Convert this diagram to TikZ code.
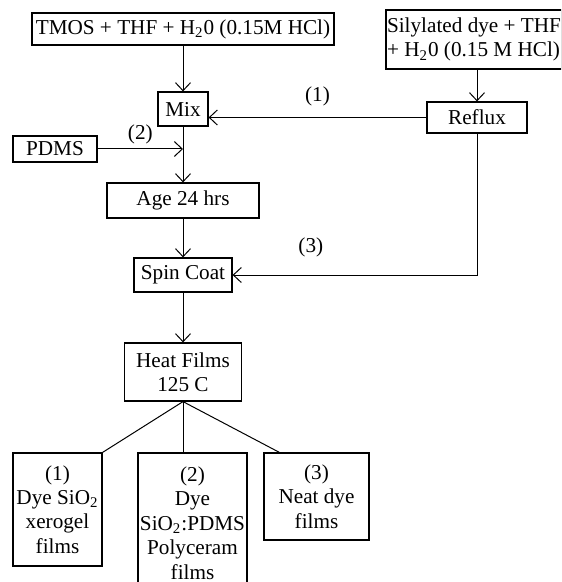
\documentclass[tikz,border=0pt]{standalone}
\usepackage{fontspec}
\setmainfont{Liberation Serif}
\usepackage{tikz}
\usetikzlibrary{arrows.meta,positioning,calc}
\newcommand{\subtwo}{\textsubscript{2}}
\tikzset{
  box/.style={draw,line width=0.6pt,inner sep=0pt,align=center},
  flow/.style={line width=0.5pt,-{Straight Barb[length=4pt,width=7.5pt]}},
  ln/.style={line width=0.5pt},
  tag/.style={inner sep=0pt},
}

\begin{document}
\begin{tikzpicture}[x=0.5pt,y=-0.5pt,font=\fontsize{10.6}{12.2}\selectfont]
  \useasboundingbox (0,0) rectangle (561,582);
  \clip (0,0) rectangle (561,582);
  % starting solutions
  \node[box,minimum width=151pt,minimum height=16pt] (tmos) at (183,29) {TMOS + THF + H\subtwo0 (0.15M HCl)};
  \node[box,minimum width=83pt,minimum height=29.5pt,align=left,inner xsep=0.5pt] (silyl) at (474,39.5) {Silylated dye + THF\\+ H\subtwo0 (0.15 M HCl)};
  \node[box,minimum width=25pt,minimum height=17pt] (mix) at (183,109) {Mix};
  \node[box,minimum width=50pt,minimum height=15.5pt] (reflux) at (477,117.5) {Reflux};
  \node[box,minimum width=42pt,minimum height=13pt] (pdms) at (55,149) {PDMS};
  % processing
  \node[box,minimum width=76pt,minimum height=17.5pt] (age) at (183,200.5) {Age 24 hrs};
  \node[box,minimum width=49pt,minimum height=17pt] (spin) at (183,275) {Spin Coat};
  \node[box,minimum width=58.5pt,minimum height=29pt] (heat) at (183,372) {Heat Films\\125 C};
  % products
  \node[box,minimum width=44.5pt,minimum height=56.5pt] (xero) at (57.5,509.5) {(1)\\Dye SiO\subtwo\\xerogel\\films};
  \node[box,minimum width=54.5pt,minimum height=70pt] (poly) at (192.5,523) {(2)\\Dye\\SiO\subtwo:PDMS\\Polyceram\\films};
  \node[box,minimum width=52.5pt,minimum height=43.5pt] (neat) at (316.5,496.5) {(3)\\Neat dye\\films};

  \draw[flow] (tmos) -- (mix);
  \draw[flow] (silyl.south -| reflux) -- (reflux.north);
  \draw[flow] (reflux.west) -- (reflux.west -| mix.east) node[tag,midway,above=5.3pt] {(1)};
  \draw[flow] (pdms.east) -- (pdms.east -| mix.south) node[tag,midway,above=2pt] {(2)};
  \draw[flow] (mix) -- (age);
  \draw[flow] (age) -- (spin);
  \draw[flow] (reflux.south) |- (spin.east) node[tag,pos=0.84,above=8.8pt] {(3)};
  \draw[flow] (spin) -- (heat);
  \draw[ln] (heat.south) -- (xero.north east);
  \draw[ln] (heat.south) -- (heat.south |- poly.north);
  \draw[ln] (heat.south) -- ($(neat.north west)+(16,0)$);
\end{tikzpicture}
\end{document}
